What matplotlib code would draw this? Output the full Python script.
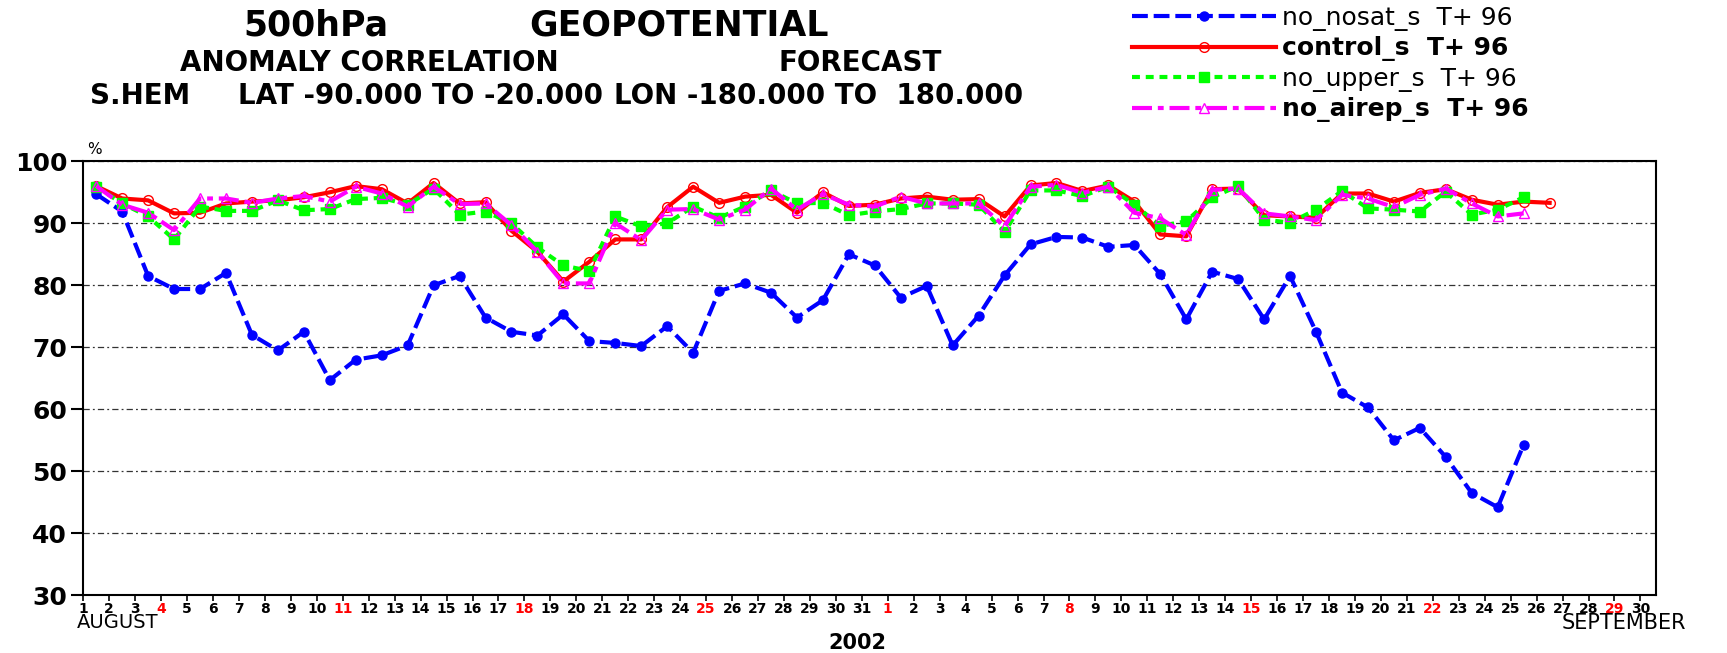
import matplotlib
matplotlib.use('Agg')
import matplotlib.pyplot as plt
import numpy as np
import pandas as pd

plt.rcParams['font.family'] = ['DejaVu Sans']

# anomaly correlation (%) of 500hPa geopotential, T+96, one value per day from 1 Aug 2002 (12Z)
no_nosat = [94.7, 91.9, 81.5, 79.4, 79.4, 82.0, 72.0, 69.5, 72.5, 64.7,
            68.0, 68.7, 70.3, 80.0, 81.5, 74.8, 72.5, 71.9, 75.3, 71.0,
            70.7, 70.2, 73.4, 69.1, 79.1, 80.3, 78.8, 74.8, 77.6, 85.0,
            83.2, 78.0, 79.9, 70.3, 75.1, 81.6, 86.6, 87.8, 87.7, 86.2,
            86.5, 81.8, 74.5, 82.2, 81.0, 74.5, 81.5, 72.5, 62.7, 60.3,
            55.0, 57.0, 52.3, 46.5, 44.2, 54.3]
control = [96.0, 94.0, 93.7, 91.6, 91.7, 93.2, 93.5, 93.7, 94.2, 95.0,
           96.0, 95.5, 93.2, 96.5, 93.2, 93.4, 88.8, 85.4, 80.6, 83.8,
           87.4, 87.4, 92.6, 95.9, 93.3, 94.3, 94.6, 91.7, 95.0, 92.8,
           93.0, 94.0, 94.3, 93.8, 93.9, 91.1, 96.1, 96.5, 95.2, 96.1,
           93.5, 88.2, 87.9, 95.5, 95.6, 91.3, 91.1, 90.9, 94.8, 94.8,
           93.5, 94.9, 95.5, 93.8, 93.0, 93.5, 93.3]
no_upper = [95.9, 93.2, 91.1, 87.4, 92.7, 92.0, 92.0, 93.7, 92.1, 92.3,
            93.9, 94.1, 93.0, 95.6, 91.4, 91.9, 90.0, 86.1, 83.2, 82.3,
            91.1, 89.5, 90.0, 92.7, 90.9, 92.7, 95.3, 93.2, 93.3, 91.3,
            91.9, 92.3, 93.2, 93.2, 93.0, 88.6, 95.3, 95.3, 94.4, 95.9,
            93.0, 89.6, 90.3, 94.2, 96.0, 90.6, 90.1, 92.2, 95.2, 92.4,
            92.2, 91.9, 95.1, 91.4, 92.2, 94.2]
no_airep = [96.0, 93.0, 91.7, 88.9, 94.0, 94.0, 93.3, 94.0, 94.4, 93.5,
            95.9, 94.8, 92.7, 95.9, 93.1, 93.2, 89.7, 85.4, 80.3, 80.3,
            90.0, 87.3, 92.2, 92.3, 90.6, 92.2, 95.6, 92.2, 94.7, 93.0,
            92.7, 94.3, 93.2, 93.2, 93.2, 89.5, 95.9, 96.2, 94.9, 95.9,
            91.7, 90.8, 88.1, 95.4, 95.6, 91.6, 91.1, 90.5, 94.6, 94.0,
            92.6, 94.6, 95.6, 93.2, 91.1, 91.6]

series_labels = ['no_nosat_s  T+ 96', 'control_s  T+ 96',
                 'no_upper_s  T+ 96', 'no_airep_s  T+ 96']

start = pd.Timestamp('2002-08-01 12:00')
calendar_days = pd.date_range('2002-08-01', '2002-09-30', freq='D')


def valid_times(values):
    return start + pd.to_timedelta(np.arange(len(values)), unit='D')


W, H = 1727, 653
fig = plt.figure(figsize=(W / 100, H / 100), dpi=100)
ax = fig.add_axes([0.0482, 0.0884, 0.9107, 0.6646])

ax.plot(valid_times(no_nosat), no_nosat, color='#0000ff', lw=3, dashes=(3.8, 1.4),
        marker='o', ms=6.5, zorder=2, label=series_labels[0])
ax.plot(valid_times(control), control, color='#ff0000', lw=3, marker='o', ms=7,
        mfc='none', mec='#ff0000', mew=1, zorder=3, label=series_labels[1])
ax.plot(valid_times(no_upper), no_upper, color='#00ff00', lw=3, dashes=(1.9, 1.4),
        marker='s', ms=7, zorder=4, label=series_labels[2])
ax.plot(valid_times(no_airep), no_airep, color='#ff00ff', lw=3, dashes=(4.8, 1.4, 1.4, 1.4),
        marker='^', ms=7, mfc='none', mec='#ff00ff', mew=1, zorder=5, label=series_labels[3])

ax.set_xlim(pd.Timestamp('2002-08-01'), pd.Timestamp('2002-09-30 14:24'))
ax.set_ylim(30, 100)
ax.set_yticks(range(30, 101, 10))
ax.set_yticklabels([str(v) for v in range(30, 101, 10)], fontsize=18, fontweight='bold')
ax.set_xticks(calendar_days)
ax.set_xticklabels([str(d.day) for d in calendar_days], fontsize=10, fontweight='bold')
for lab, d in zip(ax.get_xticklabels(), calendar_days):
    if d.dayofweek == 6:
        lab.set_color('#ff0000')
ax.tick_params(axis='x', direction='out', length=4.5, width=1.2, pad=0.5)
ax.tick_params(axis='y', direction='out', length=8.5, width=1.5, pad=3)
ax.grid(axis='y', color='#333333', lw=0.9, linestyle=(0, (5, 2.5, 1.5, 2.5)))
for sp in ax.spines.values():
    sp.set_linewidth(1.5)
    sp.set_color('black')


def px(x, y):
    return x / W, 1 - y / H


fig.text(*px(316, 26), '500hPa', fontsize=25, fontweight='bold', ha='center', va='center')
fig.text(*px(679, 26), 'GEOPOTENTIAL', fontsize=25, fontweight='bold', ha='center', va='center')
fig.text(*px(369, 63), 'ANOMALY CORRELATION', fontsize=20, fontweight='bold', ha='center', va='center')
fig.text(*px(860, 63), 'FORECAST', fontsize=20, fontweight='bold', ha='center', va='center')
fig.text(*px(140, 96), 'S.HEM', fontsize=20, fontweight='bold', ha='center', va='center')
fig.text(*px(420, 96), 'LAT -90.000 TO -20.000', fontsize=20, fontweight='bold', ha='center', va='center')
fig.text(*px(819, 96), 'LON -180.000 TO  180.000', fontsize=20, fontweight='bold', ha='center', va='center')

fig.text(*px(94, 150), '%', fontsize=11, ha='center', va='center')
fig.text(*px(118, 623), 'AUGUST', fontsize=14, ha='center', va='center')
fig.text(*px(1624, 623), 'SEPTEMBER', fontsize=15, ha='center', va='center')
fig.text(*px(857, 643), '2002', fontsize=15, fontweight='bold', ha='center', va='center')

leg = fig.legend(loc='upper left', bbox_to_anchor=(1132 / W, 0.991), frameon=False,
                 fontsize=18, handlelength=5.75, handletextpad=0.23, labelspacing=0.22,
                 borderpad=0, borderaxespad=0)
for i, t in enumerate(leg.get_texts()):
    if i % 2 == 1:
        t.set_fontweight('bold')

fig.savefig('out.png', dpi=100)
